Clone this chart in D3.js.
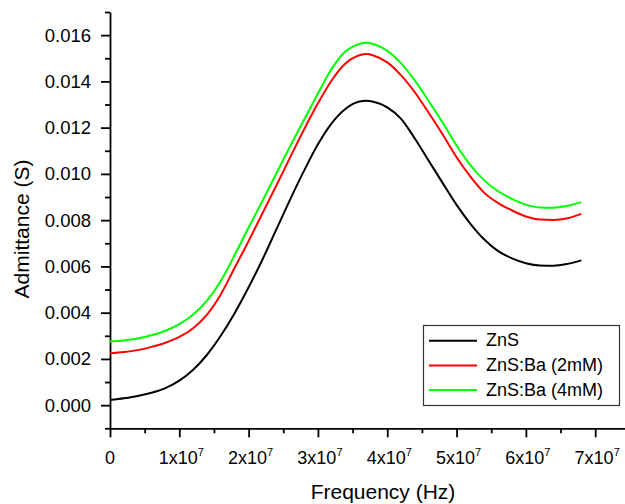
<!DOCTYPE html>
<html>
<head>
<meta charset="utf-8">
<script src="https://cdn.jsdelivr.net/npm/d3@7"></script>
<style>
  body { margin: 0; background: #fff; }
  svg { font-family: "Liberation Sans", Arial, sans-serif; }
</style>
</head>
<body>
<script>
// frequency (Hz)
const freqs = [0, 2e6, 4e6, 6e6, 8e6, 1e7, 1.2e7, 1.4e7, 1.6e7, 1.8e7, 2e7, 2.2e7, 2.4e7, 2.6e7, 2.8e7,
  3e7, 3.2e7, 3.4e7, 3.6e7, 3.7e7, 3.8e7, 4e7, 4.2e7, 4.4e7, 4.6e7, 4.8e7, 5e7, 5.2e7, 5.4e7,
  5.6e7, 5.8e7, 6e7, 6.2e7, 6.4e7, 6.6e7, 6.8e7];

// admittance (S)
const zns = [0.00022, 0.00030, 0.00040, 0.00054, 0.00074, 0.00106, 0.00153, 0.00218, 0.00301, 0.00399,
  0.00510, 0.00630, 0.00760, 0.00890, 0.01014, 0.01128, 0.01220, 0.01282, 0.01313, 0.01316, 0.01312,
  0.01288, 0.01238, 0.01152, 0.01056, 0.00960, 0.00866, 0.00784, 0.00716, 0.00666, 0.00635, 0.00614,
  0.00604, 0.00603, 0.00611, 0.00626];
const znsBa2 = [0.00224, 0.00230, 0.00238, 0.00252, 0.00270, 0.00295, 0.00333, 0.00392, 0.00480, 0.00595,
  0.00710, 0.00830, 0.00950, 0.01072, 0.01192, 0.01305, 0.01405, 0.01478, 0.01513, 0.01518, 0.01512,
  0.01482, 0.01426, 0.01352, 0.01263, 0.01170, 0.01072, 0.00988, 0.00918, 0.00874, 0.00842, 0.00816,
  0.00803, 0.00801, 0.00808, 0.00827];
const znsBa4 = [0.00275, 0.00280, 0.00288, 0.00302, 0.00322, 0.00350, 0.00392, 0.00452, 0.00538, 0.00650,
  0.00768, 0.00884, 0.01002, 0.01120, 0.01234, 0.01348, 0.01455, 0.01530, 0.01562, 0.01567, 0.01562,
  0.01532, 0.01478, 0.01403, 0.01314, 0.01221, 0.01123, 0.01038, 0.00972, 0.00925, 0.00892, 0.00867,
  0.00855, 0.00854, 0.00862, 0.00878];

const seriesNames = ["ZnS", "ZnS:Ba (2mM)", "ZnS:Ba (4mM)"];
const seriesColors = ["#000000", "#ff0000", "#00ff00"];

const yTicks = [0, 0.002, 0.004, 0.006, 0.008, 0.010, 0.012, 0.014, 0.016];
const yMinorTicks = [-0.001, 0.001, 0.003, 0.005, 0.007, 0.009, 0.011, 0.013, 0.015, 0.017];
const xTicks = [0, 1e7, 2e7, 3e7, 4e7, 5e7, 6e7, 7e7];
const xMinorTicks = [5e6, 1.5e7, 2.5e7, 3.5e7, 4.5e7, 5.5e7, 6.5e7];

const W = 625, H = 504;
const plotLeft = 110, plotRight = 625, plotTop = 12, plotBottom = 428.3;

const svg = d3.select("body").append("svg")
    .attr("width", W)
    .attr("height", H);

const x = d3.scaleLinear().domain([0, 7.43e7]).range([plotLeft, plotRight]);
const y = d3.scaleLinear().domain([-0.001, 0.017]).range([plotBottom, plotTop]);

// minor ticks first
svg.append("g")
    .attr("transform", "translate(" + plotLeft + ",0)")
    .call(d3.axisLeft(y).tickValues(yMinorTicks).tickSize(5).tickFormat(""))
    .call(g => g.select(".domain").remove());
svg.append("g")
    .attr("transform", "translate(0," + plotBottom + ")")
    .call(d3.axisBottom(x).tickValues(xMinorTicks).tickSize(5).tickFormat(""))
    .call(g => g.select(".domain").remove());

// y axis
const yAxis = svg.append("g")
    .attr("transform", "translate(" + plotLeft + ",0)")
    .call(d3.axisLeft(y).tickValues(yTicks).tickSize(9).tickSizeOuter(0).tickPadding(10)
        .tickFormat(d3.format(".3f")));
yAxis.selectAll("text").attr("font-size", 18.5).attr("fill", "#000");
yAxis.attr("font-family", null).attr("font-size", null);

// x axis
svg.append("g")
    .attr("transform", "translate(0," + plotBottom + ")")
    .call(d3.axisBottom(x).tickValues(xTicks).tickSize(9).tickSizeOuter(0).tickFormat(""));

xTicks.forEach(t => {
    const txt = svg.append("text")
        .attr("x", x(t) + (t === 0 ? 0 : 2))
        .attr("y", 464)
        .attr("text-anchor", "middle")
        .attr("font-size", 18)
        .attr("fill", "#000");
    if (t === 0) {
        txt.text("0");
    } else {
        txt.append("tspan").text((t / 1e7) + "x10");
        txt.append("tspan").attr("dy", -8).attr("font-size", 11).text("7");
    }
});

svg.selectAll(".domain, .tick line")
    .attr("stroke", "#000")
    .attr("stroke-width", 1.8);

// curves
const allSeries = [zns, znsBa2, znsBa4];
const line = d3.line()
    .x((d, i) => x(freqs[i]))
    .y(d => y(d))
    .curve(d3.curveMonotoneX);

svg.selectAll(".curve")
    .data(allSeries)
    .enter()
    .append("path")
    .attr("class", "curve")
    .attr("d", d => line(d))
    .attr("fill", "none")
    .attr("stroke", (d, i) => seriesColors[i])
    .attr("stroke-width", 2);

// axis titles
svg.append("text")
    .attr("x", 383)
    .attr("y", 499)
    .attr("text-anchor", "middle")
    .attr("font-size", 21)
    .text("Frequency (Hz)");

svg.append("text")
    .attr("transform", "translate(29,229) rotate(-90)")
    .attr("text-anchor", "middle")
    .attr("font-size", 21)
    .text("Admittance (S)");

// legend
const legend = svg.append("g").attr("id", "legend");
legend.append("rect")
    .attr("x", 423.5)
    .attr("y", 325.5)
    .attr("width", 196)
    .attr("height", 80)
    .attr("fill", "#fff")
    .attr("stroke", "#333")
    .attr("stroke-width", 1.2);

seriesNames.forEach((name, i) => {
    const ly = 340.7 + i * 24.7;
    legend.append("line")
        .attr("x1", 429)
        .attr("x2", 477)
        .attr("y1", ly)
        .attr("y2", ly)
        .attr("stroke", seriesColors[i])
        .attr("stroke-width", 2);
    legend.append("text")
        .attr("x", 486)
        .attr("y", ly + 5.5)
        .attr("font-size", 18)
        .text(name);
});
</script>
</body>
</html>
